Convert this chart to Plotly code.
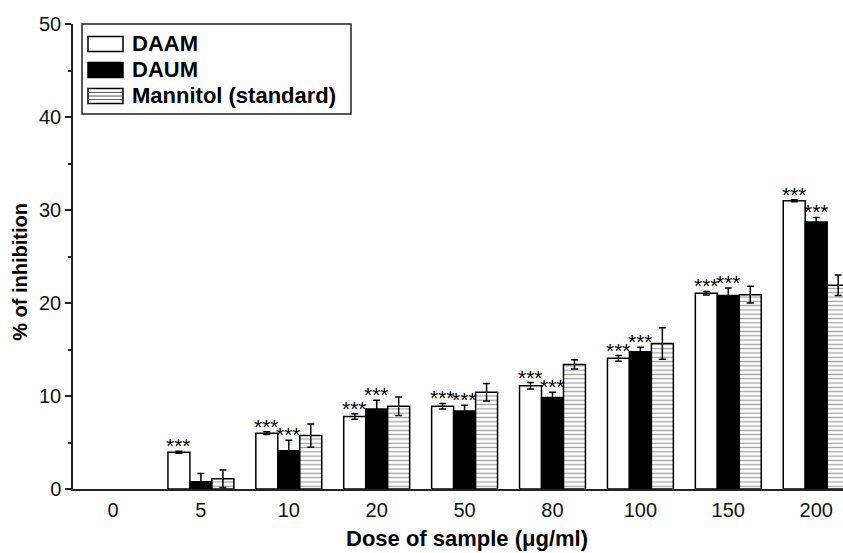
import plotly.graph_objects as go

doses = ["0", "5", "10", "20", "50", "80", "100", "150", "200"]

# dose 0 shows no bar in the reference (no inhibition measured / drawn)
daam = [None, 3.95, 6.0, 7.8, 8.9, 11.1, 14.05, 21.05, 31.0]
daam_err = [None, 0.1, 0.15, 0.3, 0.3, 0.35, 0.3, 0.2, 0.1]

daum = [None, 0.78, 4.1, 8.6, 8.4, 9.85, 14.75, 20.8, 28.7]
daum_err = [None, 0.9, 1.15, 0.95, 0.6, 0.55, 0.5, 0.8, 0.5]

mannitol = [None, 1.1, 5.75, 8.9, 10.4, 13.4, 15.65, 20.9, 21.9]
mannitol_err = [None, 0.95, 1.25, 1.0, 0.95, 0.5, 1.7, 0.9, 1.1]

daam_sig = ["", "***", "***", "***", "***", "***", "***", "***", "***"]
daum_sig = ["", "", "***", "***", "***", "***", "***", "***", "***"]

series_names = ["DAAM", "DAUM", "Mannitol (standard)"]

FONT = "Liberation Sans, Arial, sans-serif"
BARGAP = 0.25
NSER = 3
BW = (1 - BARGAP) / NSER

# plot-area geometry (pixels) used to place the hand-drawn legend
W, H = 843, 553
ML, MR, MT, MB = 73, 0, 24, 64
PW, PH = W - ML - MR, H - MT - MB


def px(x):
    return (x - ML) / PW


def py(y):
    return (H - MB - y) / PH


fig = go.Figure()
fig.add_trace(go.Bar(
    name=series_names[0], x=doses, y=daam, showlegend=False,
    marker=dict(color="white", line=dict(color="black", width=1.5)),
    error_y=dict(type="data", array=daam_err, color="black", thickness=1.5, width=3.5),
))
fig.add_trace(go.Bar(
    name=series_names[1], x=doses, y=daum, showlegend=False,
    marker=dict(color="black", line=dict(color="black", width=1.5)),
    error_y=dict(type="data", array=daum_err, color="black", thickness=1.5, width=3.5),
))
fig.add_trace(go.Bar(
    name=series_names[2], x=doses, y=mannitol, showlegend=False,
    marker=dict(color="white", line=dict(color="black", width=1.5),
                pattern=dict(shape="-", fgcolor="#444444", bgcolor="white",
                             size=4.3, solidity=0.3)),
    error_y=dict(type="data", array=mannitol_err, color="black", thickness=1.5, width=3.5),
))

annotations = []
for series_idx, (vals, errs, sig) in enumerate([(daam, daam_err, daam_sig), (daum, daum_err, daum_sig)]):
    off = (series_idx - (NSER - 1) / 2) * BW
    for i, s in enumerate(sig):
        if s:
            annotations.append(dict(
                x=i + off, y=vals[i] + errs[i], xref="x", yref="y",
                text=s, showarrow=False, yanchor="bottom", xanchor="center",
                yshift=-7, borderpad=0, font=dict(family=FONT, size=21, color="black"),
            ))

annotations.append(dict(
    x=0.512, y=0, xref="paper", yref="paper", yshift=-49,
    text="Dose of sample (μg/ml)", showarrow=False, xanchor="center", yanchor="middle",
    font=dict(family=FONT, size=22, color="black", weight="bold"),
))
annotations.append(dict(
    x=0, y=0.467, xref="paper", yref="paper", xshift=-53,
    text="% of inhibition", showarrow=False, textangle=-90,
    xanchor="center", yanchor="middle",
    font=dict(family=FONT, size=20, color="black", weight="bold"),
))

# hand-drawn legend (box, swatches, labels)
shapes = []
shapes.append(dict(type="rect", xref="paper", yref="paper",
                   x0=px(82), x1=px(351), y0=py(24), y1=py(114),
                   line=dict(color="#222222", width=1.5), fillcolor="white", layer="above"))
sw_x0, sw_x1 = 88, 123
centers = [44, 70, 96]
sw_h = 15
fills = ["white", "black", "white"]
for k, (c, f) in enumerate(zip(centers, fills)):
    shapes.append(dict(type="rect", xref="paper", yref="paper",
                       x0=px(sw_x0), x1=px(sw_x1), y0=py(c - sw_h / 2), y1=py(c + sw_h / 2),
                       line=dict(color="black", width=1.5), fillcolor=f, layer="above"))
    annotations.append(dict(
        x=px(130), y=py(c), xref="paper", yref="paper",
        text=series_names[k], showarrow=False, xanchor="left", yanchor="middle",
        font=dict(family=FONT, size=22, color="black", weight="bold"),
    ))
# stripes inside the Mannitol swatch
c = centers[2]
for yy in [c - 3.6, c, c + 3.6]:
    shapes.append(dict(type="line", xref="paper", yref="paper",
                       x0=px(sw_x0 + 1), x1=px(sw_x1 - 1), y0=py(yy), y1=py(yy),
                       line=dict(color="#555555", width=1), layer="above"))

fig.update_layout(
    width=W, height=H,
    margin=dict(l=ML, r=MR, t=MT, b=MB),
    paper_bgcolor="white", plot_bgcolor="white",
    barmode="group", bargap=BARGAP, bargroupgap=0,
    font=dict(family=FONT, size=20, color="black"),
    annotations=annotations,
    shapes=shapes,
    showlegend=False,
    xaxis=dict(
        type="category", range=[-0.455, 8.305],
        showline=True, linecolor="#222222", linewidth=1.5,
        ticks="", showgrid=False, zeroline=False,
        tickfont=dict(family=FONT, size=20, color="#111111"),
        ticklabelstandoff=2,
    ),
    yaxis=dict(
        range=[0, 50], dtick=10,
        showline=True, linecolor="#222222", linewidth=1.5,
        ticks="outside", ticklen=6, tickwidth=1.5, tickcolor="#222222",
        minor=dict(ticks="outside", ticklen=3, dtick=5, tickwidth=1.5, tickcolor="#222222"),
        showgrid=False, zeroline=False,
        tickfont=dict(family=FONT, size=20, color="#111111"),
    ),
)

fig.write_html("out.html")
